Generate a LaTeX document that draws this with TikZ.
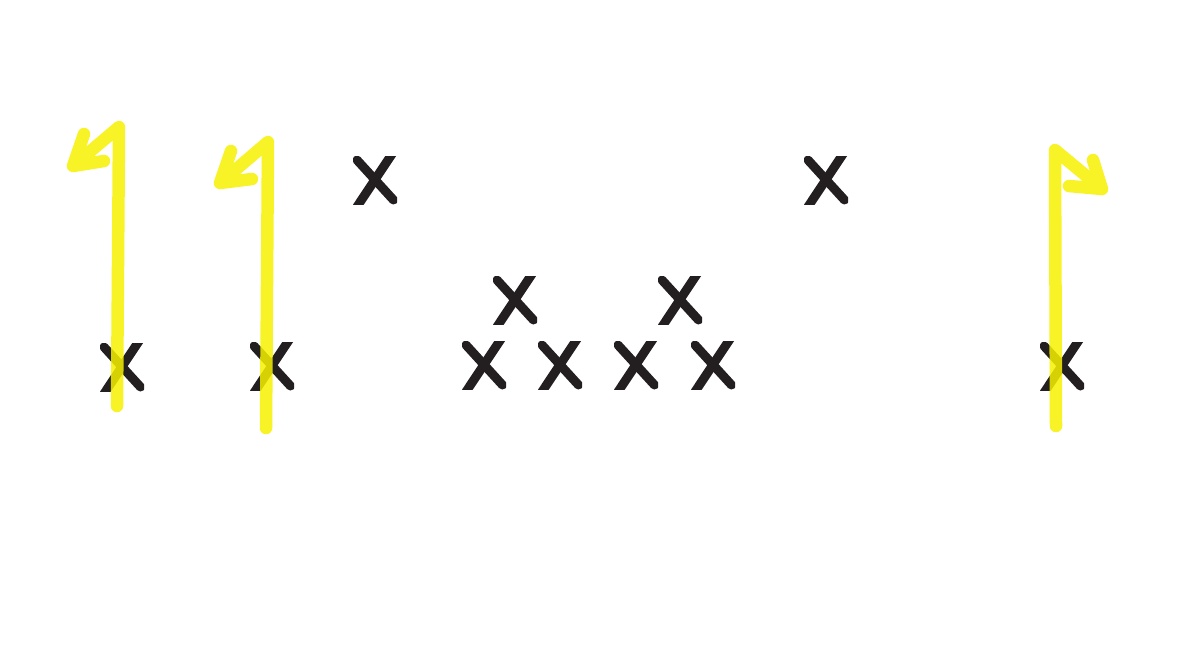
\documentclass[tikz,border=0pt]{standalone}
\definecolor{ink}{RGB}{35,31,32}
\definecolor{hl}{RGB}{246,241,0}
\begin{document}
\begin{tikzpicture}[x=1pt,y=-1pt,
  player/.style={minimum width=44pt,minimum height=48pt,inner sep=0pt,
    path picture={
      \draw[ink,line width=9pt,line cap=round]
        ([xshift=3.5pt,yshift=-3.5pt]path picture bounding box.south west) -- ([xshift=-4pt,yshift=3.5pt]path picture bounding box.north east);
      \draw[ink,line width=9pt,line cap=round]
        ([xshift=4pt,yshift=-4pt]path picture bounding box.north west) -- ([xshift=-3.5pt,yshift=4pt]path picture bounding box.south east);
    }},
  route/.style={hl,line width=12.5pt,line cap=round,line join=round,opacity=0.85}]
\useasboundingbox (0,0) rectangle (1200,667);
\fill[white] (0,0) rectangle (1200,667);
% players
\node[player] (wl) at (122,367) {};
\node[player] (sl) at (272,366) {};
\node[player] (cbl) at (375,180) {};
\node[player] (lbl) at (515,300) {};
\node[player] (lbr) at (680,300) {};
\node[player] (dl1) at (484,365) {};
\node[player] (dl2) at (560,365) {};
\node[player] (dl3) at (636,365) {};
\node[player] (dl4) at (713,365) {};
\node[player] (cbr) at (826,180) {};
\node[player] (wr) at (1062,366) {};
% route 1
\coordinate (r1s) at (117,406);
\coordinate (r1t) at (119,127);
\coordinate (r1h) at (73,166);
\coordinate (r1a) at (84,134);
\coordinate (r1b) at (104,161);
\draw[route] (r1s) -- (r1t) -- (r1h) -- (r1a) (r1h) -- (r1b);
% route 2
\coordinate (r2s) at (266,428);
\coordinate (r2t) at (268,142);
\coordinate (r2h) at (220,183);
\coordinate (r2a) at (231,151);
\coordinate (r2b) at (252,179);
\draw[route] (r2s) -- (r2t) -- (r2h) -- (r2a) (r2h) -- (r2b);
% route 3
\coordinate (r3s) at (1056,426);
\coordinate (r3t) at (1055,150);
\coordinate (r3h) at (1102,189);
\coordinate (r3a) at (1093,160);
\coordinate (r3b) at (1069,186);
\draw[route] (r3s) -- (r3t) -- (r3h) -- (r3a) (r3h) -- (r3b);
\end{tikzpicture}
\end{document}
